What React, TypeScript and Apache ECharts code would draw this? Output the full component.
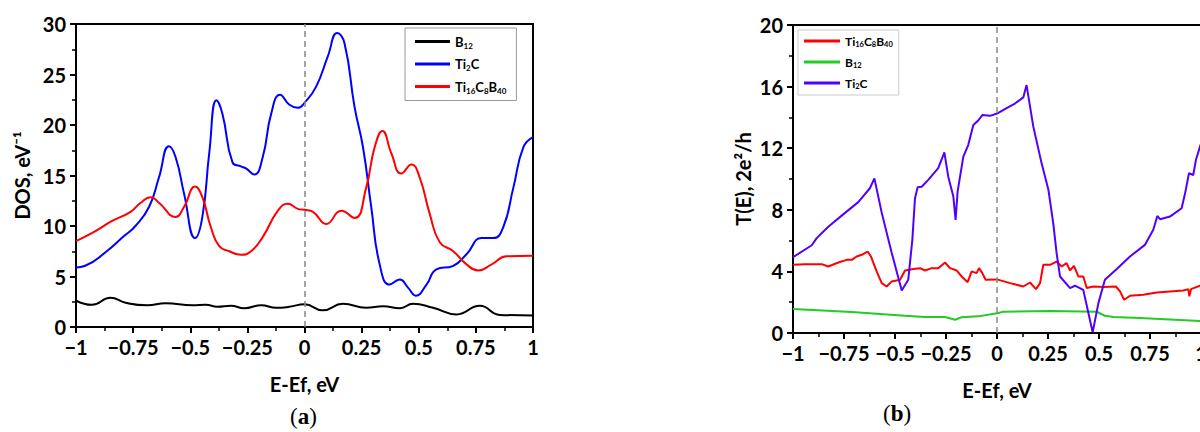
import React, { useEffect, useRef } from "react";
import * as echarts from "echarts";

// ---------- Data (a): DOS, eV^-1 vs E-Ef, eV ----------
const dosB12: number[][] = [
  [-1, 2.6], [-0.93, 2.2], [-0.849, 2.9], [-0.783, 2.4], [-0.688, 2.15], [-0.608, 2.35],
  [-0.49, 2.15], [-0.432, 2.2], [-0.381, 2.0], [-0.322, 2.1], [-0.264, 1.85], [-0.19, 2.15],
  [-0.124, 1.9], [-0.066, 2.0], [0, 2.25], [0.08, 1.65], [0.168, 2.3], [0.27, 1.9],
  [0.344, 2.05], [0.417, 1.85], [0.475, 2.3], [0.563, 1.9], [0.665, 1.25], [0.768, 2.1],
  [0.855, 1.2], [1.0, 1.15],
];
const dosTi2C: number[][] = [
  [-1, 5.9], [-0.96, 6.06], [-0.871, 7.4], [-0.79, 9.0], [-0.74, 10.0], [-0.68, 11.9],
  [-0.637, 14.8], [-0.593, 17.9], [-0.564, 16.8], [-0.527, 13.2], [-0.479, 8.8], [-0.447, 10.9],
  [-0.417, 17.2], [-0.385, 22.45], [-0.359, 21.1], [-0.315, 16.3], [-0.278, 15.9], [-0.256, 15.7],
  [-0.22, 15.1], [-0.183, 16.8], [-0.146, 21.1], [-0.107, 23.0], [-0.066, 22.0], [-0.029, 21.7],
  [0, 22.2], [0.051, 23.8], [0.102, 26.8], [0.143, 29.1], [0.175, 28.1], [0.219, 21.8],
  [0.256, 17.8], [0.292, 11.9], [0.329, 6.2], [0.373, 4.2], [0.417, 4.7], [0.453, 3.9],
  [0.487, 3.1], [0.534, 4.2], [0.577, 5.7], [0.651, 6.06], [0.709, 7.2], [0.775, 8.8],
  [0.826, 8.8], [0.87, 9.9], [0.914, 13.8], [0.958, 17.8], [1.0, 18.8],
];
const dosTi16C8B40: number[][] = [
  [-1, 8.5], [-0.915, 9.5], [-0.842, 10.5], [-0.761, 11.4], [-0.717, 12.3], [-0.673, 12.85],
  [-0.637, 12.3], [-0.564, 10.9], [-0.527, 11.9], [-0.479, 13.9], [-0.447, 12.85], [-0.41, 9.9],
  [-0.373, 8.0], [-0.329, 7.5], [-0.278, 7.15], [-0.234, 7.5], [-0.183, 8.9], [-0.117, 11.5],
  [-0.073, 12.2], [-0.029, 11.7], [0, 11.6], [0.037, 11.4], [0.095, 10.2], [0.161, 11.5],
  [0.219, 10.8], [0.27, 13.8], [0.307, 17.8], [0.341, 19.4], [0.38, 17.2], [0.424, 15.2],
  [0.468, 16.1], [0.504, 14.8], [0.548, 11.2], [0.592, 8.4], [0.651, 7.5], [0.709, 6.2],
  [0.76, 5.6], [0.819, 6.2], [0.885, 7.0], [1.0, 7.05],
];

// ---------- Data (b): T(E), 2e^2/h vs E-Ef, eV ----------
const trTi16C8B40: number[][] = [
  [-1, 4.43], [-0.941, 4.47], [-0.859, 4.47], [-0.827, 4.32], [-0.778, 4.58], [-0.737, 4.75],
  [-0.712, 4.75], [-0.688, 4.97], [-0.663, 5.08], [-0.634, 5.29], [-0.618, 4.97], [-0.59, 4.0],
  [-0.565, 3.24], [-0.541, 3.02], [-0.516, 3.35], [-0.475, 3.46], [-0.451, 4.06], [-0.41, 4.15],
  [-0.377, 4.21], [-0.353, 4.06], [-0.32, 4.21], [-0.288, 4.21], [-0.255, 4.58], [-0.23, 4.21],
  [-0.198, 4.06], [-0.173, 3.67], [-0.144, 3.3], [-0.124, 4.0], [-0.1, 3.89], [-0.088, 4.21],
  [-0.072, 3.89], [-0.056, 3.46], [0, 3.48], [0.064, 3.24], [0.129, 3.02], [0.162, 3.28],
  [0.191, 2.85], [0.211, 3.24], [0.227, 4.43], [0.26, 4.43], [0.292, 4.64], [0.317, 4.32],
  [0.341, 4.54], [0.358, 4.06], [0.377, 4.36], [0.399, 3.67], [0.423, 3.67], [0.44, 2.92],
  [0.472, 3.02], [0.521, 2.98], [0.583, 3.02], [0.603, 2.7], [0.623, 2.16], [0.652, 2.42],
  [0.717, 2.48], [0.783, 2.63], [0.848, 2.7], [0.913, 2.76], [0.938, 2.85], [0.943, 2.38],
  [0.951, 2.85], [0.995, 3.07], [1.0, 3.1],
];
const trB12: number[][] = [
  [-1, 1.56], [-0.712, 1.36], [-0.451, 1.12], [-0.353, 1.04], [-0.255, 1.04], [-0.206, 0.86],
  [-0.173, 1.02], [-0.092, 1.08], [0, 1.28], [0.031, 1.38], [0.26, 1.43], [0.489, 1.38],
  [0.529, 1.12], [0.57, 1.04], [0.701, 0.97], [1.0, 0.78],
];
const trTi2C: number[][] = [
  [-1, 4.92], [-0.908, 5.7], [-0.884, 6.16], [-0.827, 6.9], [-0.745, 7.8], [-0.68, 8.5],
  [-0.623, 9.4], [-0.601, 10.04], [-0.565, 7.8], [-0.516, 5.2], [-0.467, 2.76], [-0.435, 3.46],
  [-0.415, 6.05], [-0.402, 8.75], [-0.389, 9.46], [-0.369, 9.5], [-0.337, 9.94], [-0.288, 10.7],
  [-0.258, 11.73], [-0.239, 10.15], [-0.214, 8.86], [-0.203, 7.34], [-0.193, 9.2], [-0.165, 11.45],
  [-0.141, 12.2], [-0.116, 13.5], [-0.092, 13.8], [-0.072, 14.15], [-0.034, 14.1], [0, 14.25],
  [0.047, 14.6], [0.088, 14.9], [0.129, 15.3], [0.145, 16.1], [0.178, 13.4], [0.219, 11.0],
  [0.252, 9.3], [0.276, 7.1], [0.292, 5.2], [0.309, 3.67], [0.358, 2.92], [0.382, 3.07],
  [0.423, 2.8], [0.448, 1.3], [0.469, 0.04], [0.497, 1.94], [0.529, 3.46], [0.587, 4.15],
  [0.652, 4.97], [0.725, 5.72], [0.766, 6.7], [0.786, 7.6], [0.799, 7.39], [0.848, 7.56],
  [0.905, 8.1], [0.922, 9.07], [0.941, 10.37], [0.962, 10.26], [0.975, 11.23], [0.995, 12.1],
  [1.0, 12.3],
];

const xTicksMin = -1;
const xTicksMax = 1;
const xInterval = 0.25;
const dosMax = 30;
const dosInterval = 5;
const trMax = 20;
const trInterval = 4;

const seriesLabels: Record<string, string> = {
  "a-B12": "{n|B}{s|12}",
  "a-Ti2C": "{n|Ti}{s|2}{n|C}",
  "a-Ti16C8B40": "{n|Ti}{s|16}{n|C}{s|8}{n|B}{s|40}",
  "b-Ti16C8B40": "{m|Ti}{t|16}{m|C}{t|8}{m|B}{t|40}",
  "b-B12": "{m|B}{t|12}",
  "b-Ti2C": "{m|Ti}{t|2}{m|C}",
};

const FONT = 'Lato, "Open Sans", sans-serif';

function fmtTick(v: number): string {
  if (Math.abs(v) < 1e-9) return "0";
  const s = String(Math.round(Math.abs(v) * 100) / 100);
  return v < 0 ? "\u2212" + s : s;
}

export default function App() {
  const ref = useRef<HTMLDivElement>(null);
  useEffect(() => {
    if (!ref.current) return;
    const chart = echarts.init(ref.current, undefined, { renderer: "svg" });

    const axisLabelStyle = { color: "#000", fontWeight: "bold" as const, fontSize: 20, fontFamily: FONT };
    const nameStyle = { color: "#000", fontWeight: "bold" as const, fontSize: 20, fontFamily: FONT };
    const axLine = { show: true, onZero: false, lineStyle: { color: "#000", width: 2 } };
    const tick = { show: true, length: 6, lineStyle: { color: "#000", width: 2 } };
    const minor = { show: true, splitNumber: 2, length: 4, lineStyle: { color: "#000", width: 1.5 } };

    const makeX = (gridIndex: number) => ({
      type: "value" as const,
      gridIndex,
      min: xTicksMin,
      max: xTicksMax,
      interval: xInterval,
      name: "E-Ef, eV",
      nameLocation: "middle" as const,
      nameGap: 47,
      nameTextStyle: nameStyle,
      axisLine: axLine,
      axisTick: tick,
      minorTick: minor,
      splitLine: { show: false },
      axisLabel: { ...axisLabelStyle, margin: 10, formatter: fmtTick, showMinLabel: true, showMaxLabel: true },
    });

    const richLegend = {
      n: { fontSize: 13, fontWeight: "bold" as const, fontFamily: FONT, color: "#000", lineHeight: 16 },
      s: { fontSize: 8, fontWeight: "bold" as const, fontFamily: FONT, color: "#000", lineHeight: 9, verticalAlign: "bottom" as const },
      m: { fontSize: 12, fontWeight: "bold" as const, fontFamily: FONT, color: "#000", lineHeight: 14 },
      t: { fontSize: 7.5, fontWeight: "bold" as const, fontFamily: FONT, color: "#000", lineHeight: 8, verticalAlign: "bottom" as const },
    };

    const zeroLine = {
      silent: true,
      symbol: ["none", "none"],
      label: { show: false },
      lineStyle: { type: [6, 4] as any, color: "#888", width: 1.5 },
      data: [{ xAxis: 0 }],
    };

    const line = (name: string, data: number[][], color: string, xi: number, smooth: boolean, extra: any = {}) => ({
      type: "line" as const,
      name,
      data,
      xAxisIndex: xi,
      yAxisIndex: xi,
      smooth,
      symbol: "none",
      color,
      itemStyle: { color },
      lineStyle: { color, width: 2 },
      ...extra,
    });

    const caption = (letter: string, left: number, top: number) => ({
      type: "text",
      left,
      top,
      style: {
        text: "({b|" + letter + "})",
        fontFamily: '"Liberation Serif", "DejaVu Serif", serif',
        fontSize: 23,
        fill: "#000",
        rich: { b: { fontWeight: "bold", fontSize: 23, fontFamily: '"Liberation Serif", serif' } },
      },
    });

    chart.setOption({
      animation: false,
      backgroundColor: "#fff",
      grid: [
        { left: 76, top: 24, width: 457, height: 303, show: true, borderColor: "#000", borderWidth: 2, backgroundColor: "transparent", outerBoundsMode: "none" },
        { left: 793, top: 25, width: 408, height: 308, show: true, borderColor: "#000", borderWidth: 2, backgroundColor: "transparent", outerBoundsMode: "none" },
      ],
      xAxis: [makeX(0), makeX(1)],
      yAxis: [
        {
          type: "value",
          gridIndex: 0,
          min: 0,
          max: dosMax,
          interval: dosInterval,
          name: "DOS, eV\u207B\u00B9",
          nameLocation: "middle",
          nameGap: 44,
          nameRotate: 90,
          nameTextStyle: nameStyle,
          axisLine: axLine,
          axisTick: tick,
          minorTick: minor,
          splitLine: { show: false },
          axisLabel: { ...axisLabelStyle, margin: 10 },
        },
        {
          type: "value",
          gridIndex: 1,
          min: 0,
          max: trMax,
          interval: trInterval,
          name: "T(E), 2e\u00B2/h",
          nameLocation: "middle",
          nameGap: 40,
          nameRotate: 90,
          nameTextStyle: nameStyle,
          axisLine: axLine,
          axisTick: tick,
          minorTick: minor,
          splitLine: { show: false },
          axisLabel: { ...axisLabelStyle, margin: 10 },
        },
      ],
      legend: [
        {
          data: ["a-B12", "a-Ti2C", "a-Ti16C8B40"],
          orient: "vertical",
          left: 405,
          top: 28,
          padding: [7, 10, 6, 10],
          itemGap: 8,
          itemWidth: 35,
          itemHeight: 3,
          icon: "rect",
          backgroundColor: "#fff",
          borderColor: "#999",
          borderWidth: 1,
          formatter: (n: string) => seriesLabels[n] || n,
          textStyle: { rich: richLegend },
        },
        {
          data: ["b-Ti16C8B40", "b-B12", "b-Ti2C"],
          orient: "vertical",
          left: 798,
          top: 30,
          padding: [5, 6, 5, 6],
          itemGap: 8,
          itemWidth: 36,
          itemHeight: 3,
          icon: "rect",
          backgroundColor: "#fff",
          borderColor: "#ccc",
          borderWidth: 1,
          formatter: (n: string) => seriesLabels[n] || n,
          textStyle: { rich: richLegend },
        },
      ],
      series: [
        line("a-B12", dosB12, "#000000", 0, true, { markLine: zeroLine }),
        line("a-Ti2C", dosTi2C, "#0000ff", 0, true),
        line("a-Ti16C8B40", dosTi16C8B40, "#ff0000", 0, true),
        line("b-Ti16C8B40", trTi16C8B40, "#ff0000", 1, false),
        line("b-B12", trB12, "#22cc22", 1, false, { markLine: zeroLine }),
        line("b-Ti2C", trTi2C, "#5000ff", 1, false),
      ],
      graphic: [caption("a", 290, 405), caption("b", 883, 402)],
    });
    return () => chart.dispose();
  }, []);
  return (
    <div
      ref={ref}
      style={{ position: "fixed", left: 0, top: 0, width: 1200, height: 432, background: "#fff" }}
    />
  );
}
